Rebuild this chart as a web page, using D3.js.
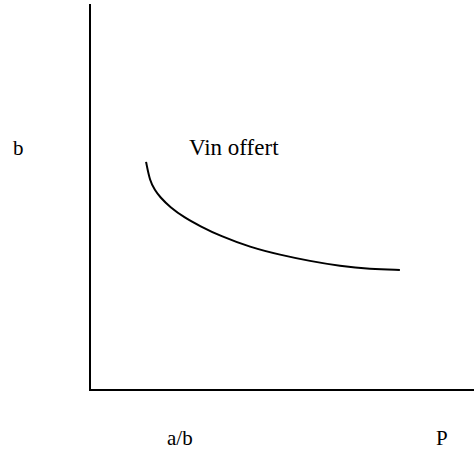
<!DOCTYPE html>
<html>
<head>
<meta charset="utf-8">
<script src="https://cdn.jsdelivr.net/npm/d3@7"></script>
<style>
  html, body { margin: 0; padding: 0; background: #fff; }
  svg { display: block; }
</style>
</head>
<body>
<svg id="chart" width="474" height="456"></svg>
<script>
// curve "Vin offert" (arbitrary units)
const curveX = [14.6, 15.6, 16.9, 18.2, 20.8, 24.7, 28.6, 33.9, 41.7, 49.5, 57.3, 65.1, 72.9, 80.7]
const curveY = [59.1, 54.1, 51.8, 50.0, 47.4, 44.6, 42.5, 39.9, 37.0, 35.0, 33.4, 32.1, 31.3, 31.1]
const curveName = 'Vin offert'
const yLabel = 'b'
const xLabels = ['a/b', 'P']

const serif = '"Liberation Serif", Tinos, "Times New Roman", Times, "DejaVu Serif", serif'

const svg = d3.select('#chart')

let x = d3.scaleLinear().domain([0, 100]).range([90, 474])
let y = d3.scaleLinear().domain([0, 100]).range([390, 4])

//Axes: plain lines, no ticks
svg.append('line')
  .attr('x1', x(0)).attr('y1', y(0))
  .attr('x2', x(0)).attr('y2', y(100))
  .attr('stroke', '#000')
  .attr('stroke-width', 2)

svg.append('line')
  .attr('x1', x(0) - 1).attr('y1', y(0))
  .attr('x2', x(100)).attr('y2', y(0))
  .attr('stroke', '#000')
  .attr('stroke-width', 2)

let points = curveX.map((d, i) => [d, curveY[i]])

let line = d3.line()
  .x(d => x(d[0]))
  .y(d => y(d[1]))
  .curve(d3.curveBasis)

svg.append('path')
  .datum(points)
  .attr('d', line)
  .attr('fill', 'none')
  .attr('stroke', '#000')
  .attr('stroke-width', 2)

//Labels
function label(tx, ty, size, str){
  svg.append('text')
    .attr('x', tx).attr('y', ty)
    .attr('font-family', serif)
    .attr('font-size', size)
    .attr('fill', '#000')
    .text(str)
}

label(189, 155, 23, curveName)
label(13, 155, 21, yLabel)
label(167, 445, 21, xLabels[0])
label(436, 445, 21, xLabels[1])
</script>
</body>
</html>
